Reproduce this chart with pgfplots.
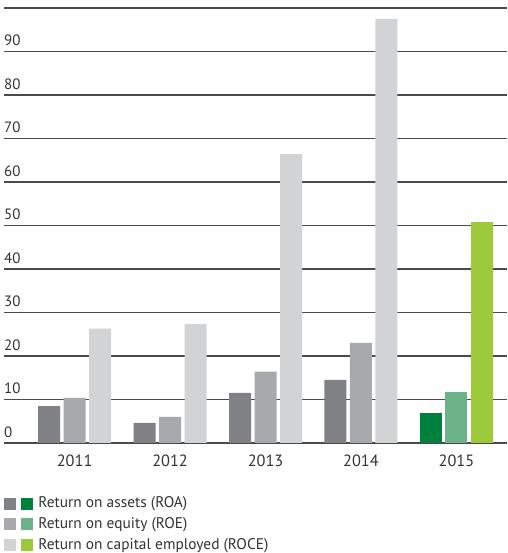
\documentclass[border=0pt]{standalone}
\usepackage{fontspec}
\setmainfont{PT Sans}
\usepackage{pgfplots}
\pgfplotsset{compat=1.18}
\definecolor{roa}{HTML}{808184}
\definecolor{roe}{HTML}{A7A9AC}
\definecolor{roce}{HTML}{D1D3D4}
\definecolor{roaG}{HTML}{00803D}
\definecolor{roeG}{HTML}{6DB38A}
\definecolor{roceG}{HTML}{9DCA3A}
\definecolor{gridc}{HTML}{4A4A4A}
\definecolor{txt}{HTML}{333333}
\begin{document}
\begin{tikzpicture}[x=1pt,y=1pt]
\path[use as bounding box] (0,0) rectangle (507,553);
\begin{axis}[
  at={(4pt,110pt)}, anchor=south west,
  scale only axis, width=503pt, height=435pt,
  xmin=-0.74, xmax=4.53, ymin=0, ymax=100,
  axis line style={draw=none},
  ybar, bar width=22pt,
  xtick={0,1,2,3,4}, xticklabels={2011,2012,2013,2014,2015},
  ytick={0,10,...,100}, yticklabels={0,10,20,30,40,50,60,70,80,90,{}},
  major tick length=0pt,
  ymajorgrids, grid style={gridc, line width=1.2pt},
  yticklabel style={anchor=south west, inner sep=0pt, yshift=5.5pt, font=\fontsize{15}{17}\selectfont, text=txt},
  xticklabel style={anchor=base, inner sep=0pt, yshift=-23.7pt, font=\fontsize{16.3}{18}\selectfont, text=txt},
  /pgf/number format/assume math mode=true,
  clip=false,
  legend style={at={(rel axis cs:0,0)}, anchor=north west, draw=none, fill=none,
    inner sep=0pt, outer sep=0pt, yshift=-52pt, font=\fontsize{15.4}{17}\selectfont, text=txt,
    legend cell align=left, row sep=4.5pt,
    /tikz/every odd column/.append style={column sep=4pt}},
]
\addplot[fill=roa, draw=none, bar shift=-25.5pt, forget plot] coordinates {(0,8.5) (1,4.6) (2,11.5) (3,14.5)};
\addplot[fill=roe, draw=none, bar shift=0pt, forget plot] coordinates {(0,10.4) (1,6.0) (2,16.4) (3,23.0)};
\addplot[fill=roce, draw=none, bar shift=25.5pt, forget plot] coordinates {(0,26.3) (1,27.4) (2,66.4) (3,97.5)};
\addplot[fill=roaG, draw=none, bar shift=-25.5pt, forget plot] coordinates {(4,6.9)};
\addplot[fill=roeG, draw=none, bar shift=0pt, forget plot] coordinates {(4,11.7)};
\addplot[fill=roceG, draw=none, bar shift=25.5pt, forget plot] coordinates {(4,50.7)};
\addlegendimage{legend image code/.code={\fill[roa] (0pt,-5.5pt) rectangle (11pt,5.5pt); \fill[roaG] (17pt,-5.5pt) rectangle (28pt,5.5pt);}}
\addlegendentry{Return on assets (ROA)}
\addlegendimage{legend image code/.code={\fill[roe] (0pt,-5.5pt) rectangle (11pt,5.5pt); \fill[roeG] (17pt,-5.5pt) rectangle (28pt,5.5pt);}}
\addlegendentry{Return on equity (ROE)}
\addlegendimage{legend image code/.code={\fill[roce] (0pt,-5.5pt) rectangle (11pt,5.5pt); \fill[roceG] (17pt,-5.5pt) rectangle (28pt,5.5pt);}}
\addlegendentry{Return on capital employed (ROCE)}
\end{axis}
\end{tikzpicture}
\end{document}
